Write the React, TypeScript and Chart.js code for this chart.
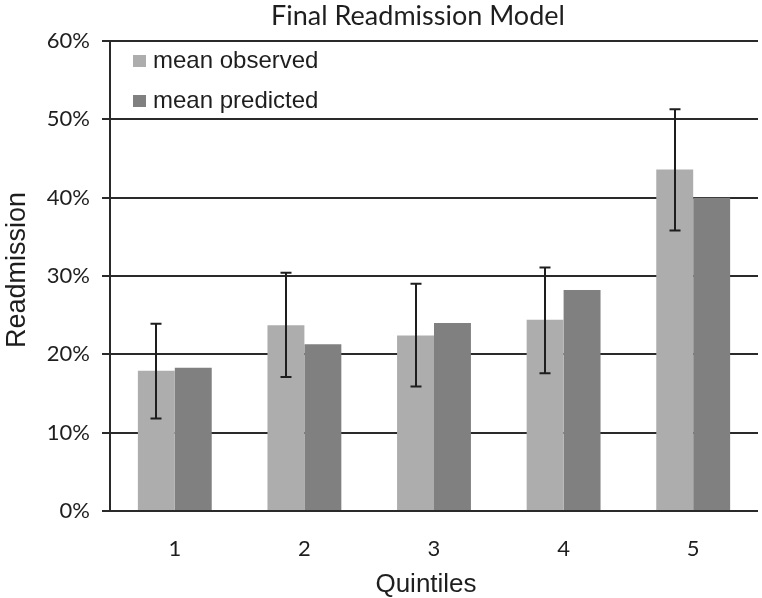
import React, { useEffect, useRef } from "react";
import { Chart, registerables } from "chart.js";

Chart.register(...registerables);

const categories = ["1", "2", "3", "4", "5"];
const meanObserved = [17.9, 23.7, 22.4, 24.4, 43.6];
const meanPredicted = [18.3, 21.3, 24.0, 28.2, 40.0];
const errLow = [11.8, 17.1, 15.9, 17.6, 35.8];
const errHigh = [23.9, 30.4, 29.0, 31.1, 51.3];
const seriesNames = ["mean observed", "mean predicted"];
const chartTitle = "Final Readmission Model";
const yTitle = "Readmission";
const xTitle = "Quintiles";

const OBS_COLOR = "#adadad";
const PRED_COLOR = "#808080";
const INK = "#1e1e1e";

const errorBarPlugin = {
  id: "errorBars",
  afterDatasetsDraw(chart: any) {
    const meta = chart.getDatasetMeta(0);
    const y = chart.scales.y;
    const ctx = chart.ctx;
    ctx.save();
    ctx.strokeStyle = INK;
    ctx.lineWidth = 2;
    meta.data.forEach((el: any, i: number) => {
      const x = Math.round(el.x);
      const yLo = y.getPixelForValue(errLow[i]);
      const yHi = y.getPixelForValue(errHigh[i]);
      ctx.beginPath();
      ctx.moveTo(x, yLo);
      ctx.lineTo(x, yHi);
      ctx.moveTo(x - 5.5, yLo);
      ctx.lineTo(x + 5.5, yLo);
      ctx.moveTo(x - 5.5, yHi);
      ctx.lineTo(x + 5.5, yHi);
      ctx.stroke();
    });
    ctx.restore();
  },
};

const textPlugin = {
  id: "textLayer",
  afterDraw(chart: any) {
    const ctx = chart.ctx;
    ctx.save();
    ctx.fillStyle = INK;
    ctx.textBaseline = "alphabetic";

    // chart title
    ctx.font = "27px Lato";
    ctx.textAlign = "center";
    ctx.fillText(chartTitle, 418, 25);

    // x axis title
    ctx.font = "26px 'Liberation Sans'";
    ctx.fillText(xTitle, 426, 592);

    // y axis title
    ctx.save();
    ctx.translate(25, 270);
    ctx.rotate(-Math.PI / 2);
    ctx.font = "27px 'Liberation Sans'";
    ctx.fillText(yTitle, 0, 0);
    ctx.restore();

    // legend
    const colors = [OBS_COLOR, PRED_COLOR];
    ctx.textAlign = "left";
    ctx.font = "24px 'Liberation Sans'";
    seriesNames.forEach((name, i) => {
      const cy = 61 + i * 40;
      ctx.fillStyle = colors[i];
      ctx.fillRect(133, cy - 6, 13, 12);
      ctx.fillStyle = INK;
      ctx.fillText(name, 153, cy + 7);
    });
    ctx.restore();
  },
};

export default function App() {
  const ref = useRef<HTMLCanvasElement | null>(null);

  useEffect(() => {
    if (!ref.current) return;
    const chart = new Chart(ref.current, {
      type: "bar",
      data: {
        labels: categories,
        datasets: [
          {
            label: seriesNames[0],
            data: meanObserved,
            backgroundColor: OBS_COLOR,
            categoryPercentage: 0.57,
            barPercentage: 1.0,
          },
          {
            label: seriesNames[1],
            data: meanPredicted,
            backgroundColor: PRED_COLOR,
            categoryPercentage: 0.57,
            barPercentage: 1.0,
          },
        ],
      },
      options: {
        responsive: false,
        animation: false,
        layout: { padding: { left: 0, right: 4, top: 41, bottom: 0 } },
        plugins: {
          legend: { display: false },
          title: { display: false },
          tooltip: { enabled: false },
        },
        scales: {
          x: {
            grid: { display: false, drawTicks: false },
            border: { display: false },
            ticks: {
              color: INK,
              font: { family: "Lato", size: 22 },
              padding: 25,
            },
            afterFit(scale: any) {
              scale.height = 87;
            },
          },
          y: {
            min: 0,
            max: 60,
            ticks: {
              stepSize: 10,
              color: INK,
              font: { family: "Lato", size: 22 },
              padding: 12,
              callback: (v: any) => v + "%",
            },
            grid: {
              color: "#2a2a2a",
              lineWidth: 2,
              drawTicks: true,
              tickLength: 8,
            },
            border: { display: true, color: "#2a2a2a", width: 2 },
            afterFit(scale: any) {
              scale.width = 110;
            },
          },
        },
      },
      plugins: [errorBarPlugin, textPlugin],
    });
    return () => chart.destroy();
  }, []);

  return (
    <div style={{ position: "absolute", left: 0, top: 0, width: 762, height: 598, background: "#fff" }}>
      <canvas ref={ref} width={762} height={598} style={{ width: 762, height: 598 }} />
    </div>
  );
}
